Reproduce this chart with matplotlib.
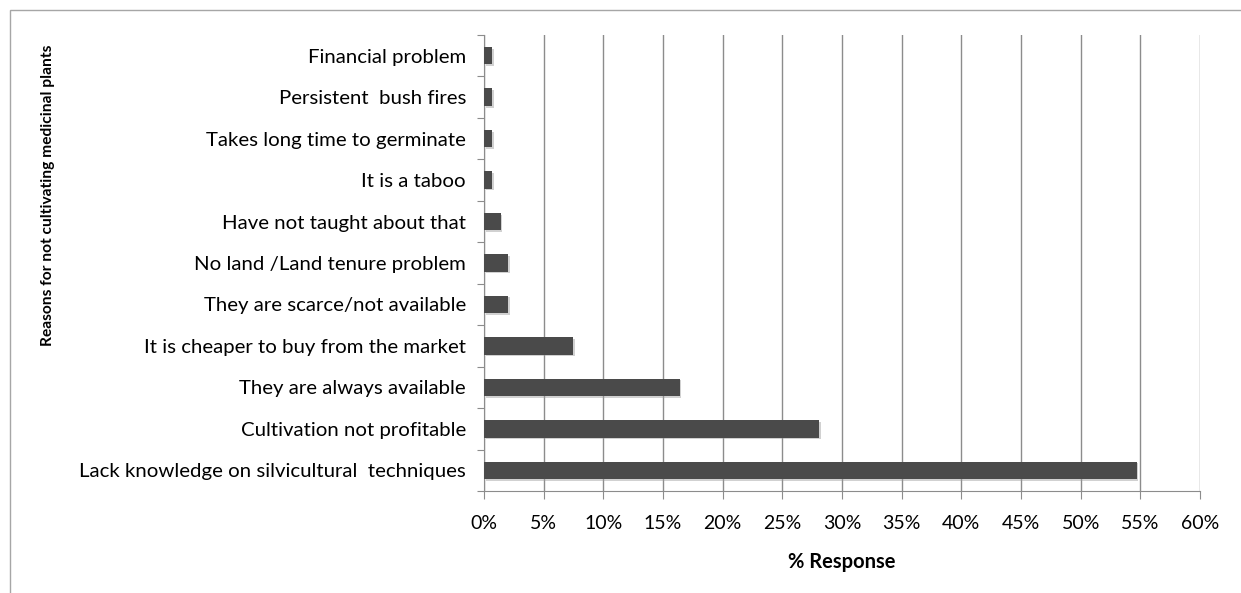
import matplotlib
matplotlib.use("Agg")
import matplotlib.pyplot as plt
import matplotlib.patheffects as pe
from matplotlib.patches import Rectangle

plt.rcParams['font.family'] = ['Lato', 'DejaVu Sans']

reasons = [
    "Lack knowledge on silvicultural  techniques",
    "Cultivation not profitable",
    "They are always available",
    "It is cheaper to buy from the market",
    "They are scarce/not available",
    "No land /Land tenure problem",
    "Have not taught about that",
    "It is a taboo",
    "Takes long time to germinate",
    "Persistent  bush fires",
    "Financial problem",
]
response = [54.7, 28.1, 16.4, 7.5, 2.0, 2.0, 1.4, 0.7, 0.7, 0.7, 0.7]
xticks = list(range(0, 61, 5))

fig = plt.figure(figsize=(12.41, 5.93), dpi=100)
ax = fig.add_axes([0.390, 0.172, 0.577, 0.769])

# outer chart frame
fig.patches.append(Rectangle((10 / 1241, -0.05), 1.1, 1 - 10 / 593 + 0.05,
                             transform=fig.transFigure, fill=False,
                             edgecolor='#a6a6a6', lw=1.0))

ypos = range(len(reasons))
bars = ax.barh(ypos, response, height=0.42, color='#4a4a4a', zorder=3)
for b in bars:
    b.set_path_effects([pe.SimplePatchShadow(offset=(1.2, -1.2), shadow_rgbFace='#9a9a9a', alpha=0.45),
                        pe.Normal()])

ax.set_xlim(0, 60)
ax.set_ylim(-0.5, len(reasons) - 0.5)
ax.set_xticks(xticks)
ax.set_xticklabels([f"{v}%" for v in xticks], fontsize=14)
ax.grid(axis='x', color='#8c8c8c', lw=1.0, zorder=0)

# category boundaries get the tick marks, labels sit between them
ax.set_yticks([i - 0.5 for i in range(len(reasons) + 1)])
ax.set_yticklabels([])
ax.set_yticks(list(ypos), minor=True)
ax.set_yticklabels(reasons, minor=True, fontsize=14.7)
ax.tick_params(axis='y', which='minor', length=0, pad=13)
ax.tick_params(axis='y', which='major', length=5, color='#8c8c8c', direction='out')
ax.tick_params(axis='x', length=6, color='#8c8c8c', pad=11)

for side in ('top', 'right'):
    ax.spines[side].set_visible(False)
for side in ('left', 'bottom'):
    ax.spines[side].set_color('#8c8c8c')

ax.set_xlabel("% Response", fontsize=14.5, fontweight='bold', labelpad=15)
fig.text(48 / 1241, 1 - 195 / 593, "Reasons for not cultivating medicinal plants",
         rotation=90, ha='center', va='center', fontsize=11.2, fontweight='bold')

fig.savefig("out.png", dpi=100)
